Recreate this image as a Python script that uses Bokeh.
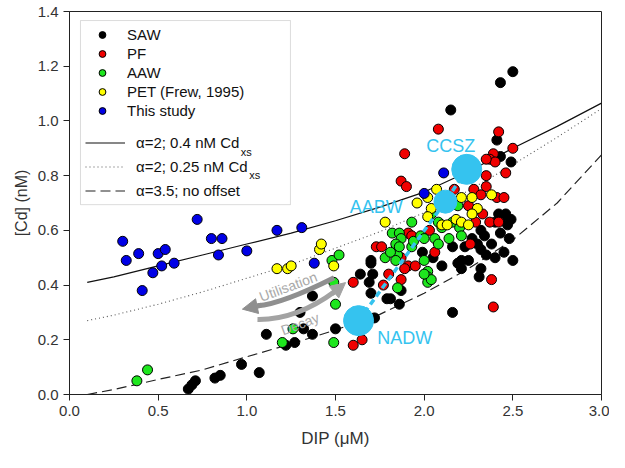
from bokeh.plotting import figure
from bokeh.models import (Range1d, FixedTicker, PrintfTickFormatter, Legend, LegendItem,
                          BoxAnnotation, Label, Arrow, NormalHead)
from bokeh.core.properties import value
from bokeh.embed import file_html
from bokeh.resources import INLINE

# ---------------- data ----------------
saw_x = [0.67, 0.69, 0.71, 0.82, 0.85, 0.97, 1.07,
         1.11, 1.22, 1.27, 1.32, 1.37, 1.30, 1.37, 1.50,
         1.64, 1.69, 1.70, 1.71, 1.70, 1.79, 1.86, 1.72, 1.81, 1.87, 1.70,
         1.99, 2.05, 2.10, 2.19, 2.16, 2.23, 2.21, 2.25, 2.21, 2.32, 2.32, 2.32, 2.34, 2.27,
         2.30, 2.38, 2.40, 2.45, 2.35, 2.31, 2.16,
         2.40, 2.42, 2.46, 2.49, 2.47, 2.43, 2.48, 2.50, 2.44,
         2.50, 2.43, 2.15, 2.41, 2.49, 2.43]
saw_y = [0.02, 0.035, 0.05, 0.06, 0.07, 0.11, 0.08,
         0.22, 0.18, 0.19, 0.24, 0.22, 0.30, 0.36, 0.24,
         0.44, 0.41, 0.37, 0.44, 0.48, 0.35, 0.33, 0.28, 0.35, 0.38, 0.49,
         0.52, 0.50, 0.47, 0.48, 0.54, 0.54, 0.49, 0.49, 0.46, 0.46, 0.53, 0.60, 0.58, 0.57,
         0.55, 0.55, 0.50, 0.52, 0.51, 0.43, 0.30,
         0.63, 0.66, 0.66, 0.64, 0.62, 0.59, 0.57, 0.49, 0.65,
         1.18, 1.14, 1.04, 0.93, 0.85, 0.87]

pf_x = [1.60, 1.60, 1.65, 1.73, 1.76, 1.80, 1.87, 1.77, 1.91, 1.95, 1.89, 1.87,
        1.87, 1.90, 1.91, 1.93, 2.03, 2.06, 2.17,
        2.28, 2.35, 2.32, 2.25, 2.33, 2.37, 2.42, 2.29, 2.26, 2.41, 2.45, 2.46, 2.35,
        2.08, 1.89, 2.42, 2.50, 2.39, 2.37, 2.40, 2.35,
        2.38, 2.39]
pf_y = [0.41, 0.18, 0.20, 0.54, 0.54, 0.44, 0.42, 0.40, 0.47, 0.47, 0.46, 0.50,
        0.78, 0.76, 0.59, 0.58, 0.60, 0.52, 0.75,
        0.75, 0.76, 0.73, 0.69, 0.66, 0.63, 0.63, 0.63, 0.55, 0.72, 0.72, 0.81, 0.80,
        0.97, 0.88, 0.96, 0.90, 0.88, 0.86, 0.85, 0.86,
        0.42, 0.32]

aaw_x = [0.38, 0.44, 1.20, 1.26, 1.49, 1.50, 1.49, 1.48, 1.52,
         1.82, 1.78, 1.85, 1.85, 1.93, 1.86, 1.87, 1.84, 1.86, 1.81, 1.84, 1.93, 1.94,
         2.00, 2.02, 2.02, 2.02, 2.04, 2.00, 1.98, 2.00, 2.06, 2.08, 2.04, 2.08, 2.10,
         2.14, 2.16, 2.19, 2.20, 2.21]
aaw_y = [0.05, 0.09, 0.19, 0.24, 0.19, 0.33, 0.41, 0.49, 0.51,
         0.59, 0.50, 0.51, 0.39, 0.63, 0.59, 0.57, 0.55, 0.54, 0.52, 0.49, 0.54, 0.56,
         0.49, 0.45, 0.43, 0.41, 0.42, 0.44, 0.58, 0.57, 0.57, 0.55, 0.66, 0.63, 0.61,
         0.57, 0.63, 0.69, 0.61, 0.58]

pet_x = [1.17, 1.23, 1.25, 1.41, 1.42, 1.49, 1.78,
         1.96, 2.02, 2.07, 2.04, 2.02, 2.10, 2.13, 2.18, 2.21, 2.25, 2.21, 2.27, 2.30, 2.27, 2.38]
pet_y = [0.46, 0.46, 0.47, 0.53, 0.55, 0.47, 0.63,
         0.70, 0.72, 0.75, 0.68, 0.65, 0.62, 0.62, 0.64, 0.63, 0.62, 0.72, 0.72, 0.68, 0.66, 0.73]

study_x = [0.30, 0.32, 0.39, 0.50, 0.54, 0.52, 0.47, 0.59, 0.41, 0.72, 0.80, 0.86, 0.84,
           1.00, 1.17, 1.31, 1.38, 2.11, 2.00]
study_y = [0.56, 0.49, 0.515, 0.515, 0.53, 0.47, 0.445, 0.48, 0.38, 0.64, 0.57, 0.57, 0.51,
           0.525, 0.60, 0.61, 0.48, 0.81, 0.735]

# model curves
curve_x = [0.1, 0.25, 0.5, 0.75, 1.0, 1.25, 1.5, 1.75, 2.0, 2.25, 2.5, 2.75, 3.0]
solid_y = [0.41, 0.43, 0.47, 0.51, 0.55, 0.59, 0.635, 0.685, 0.74, 0.815, 0.90, 0.98, 1.065]
dotted_y = [0.27, 0.29, 0.33, 0.375, 0.425, 0.475, 0.535, 0.595, 0.665, 0.745, 0.84, 0.94, 1.045]
dashed_y = [0.0, 0.018, 0.055, 0.09, 0.138, 0.185, 0.236, 0.293, 0.37, 0.46, 0.565, 0.70, 0.876]

# water-mass end members
wm_names = ["NADW", "AABW", "CCSZ"]
wm_x = [1.63, 2.12, 2.24]
wm_y = [0.27, 0.705, 0.823]
wm_size = [30, 23, 30]
wm_label_x = [1.89, 1.73, 2.15]
wm_label_y = [0.205, 0.687, 0.91]

x_ticks = [0.0, 0.5, 1.0, 1.5, 2.0, 2.5, 3.0]
y_ticks = [0.0, 0.2, 0.4, 0.6, 0.8, 1.0, 1.2, 1.4]

FONT = "Liberation Sans"
CYAN = "#35c3ef"

p = figure(width=609, height=452, output_backend="svg", toolbar_location=None,
           x_range=Range1d(0, 3.0), y_range=Range1d(0, 1.4),
           min_border_left=69, min_border_right=8, min_border_top=11, min_border_bottom=58)
p.grid.visible = False
p.outline_line_color = "#222222"
p.outline_line_width = 1
p.background_fill_color = "white"
p.border_fill_color = "white"

for ax in (p.xaxis[0], p.yaxis[0]):
    ax.major_label_text_font = FONT
    ax.major_label_text_font_size = "15px"
    ax.major_label_text_color = "#333333"
    ax.axis_label_text_font = FONT
    ax.axis_label_text_font_style = "normal"
    ax.axis_label_text_color = "#333333"
    ax.axis_line_color = "#222222"
    ax.major_tick_line_color = "#222222"
    ax.major_tick_out = 6
    ax.major_tick_in = 0
    ax.minor_tick_line_color = None
    ax.formatter = PrintfTickFormatter(format="%.1f")
p.xaxis[0].ticker = FixedTicker(ticks=x_ticks)
p.yaxis[0].ticker = FixedTicker(ticks=y_ticks)
p.xaxis[0].axis_label = "DIP (\u03bcM)"
p.yaxis[0].axis_label = "[Cd] (nM)"
p.xaxis[0].axis_label_text_font_size = "17px"
p.yaxis[0].axis_label_text_font_size = "16px"
p.xaxis[0].major_label_standoff = 5
p.yaxis[0].major_label_standoff = 5
p.xaxis[0].axis_label_standoff = 10
p.yaxis[0].axis_label_standoff = 5

# curves
r_solid = p.line(curve_x, solid_y, line_color="#111111", line_width=1.2)
r_dot = p.line(curve_x, dotted_y, line_color="#555555", line_width=1.1, line_dash="1 3")
r_dash = p.line(curve_x, dashed_y, line_color="#222222", line_width=1.2, line_dash="10 5")

# scatter series
kw = dict(size=10, line_color="black", line_width=1)
r_saw = p.scatter(saw_x, saw_y, fill_color="black", **kw)
r_pf = p.scatter(pf_x, pf_y, fill_color="#f00000", **kw)
r_aaw = p.scatter(aaw_x, aaw_y, fill_color="#1ee61e", **kw)
r_pet = p.scatter(pet_x, pet_y, fill_color="#ffff00", **kw)
r_study = p.scatter(study_x, study_y, fill_color="#0000e6", **kw)

# arrows (Utilisation / Decay)
p.quadratic(x0=[1.492], y0=[0.427], x1=[1.06], y1=[0.324], cx=[1.20], cy=[0.332],
            line_color="#8f8f8f", line_width=5)
p.add_layout(Arrow(end=NormalHead(size=15, fill_color="#8f8f8f", line_color="#8f8f8f"),
                   x_start=1.08, y_start=0.326, x_end=0.975, y_end=0.312,
                   line_color="#8f8f8f", line_width=5))
p.quadratic(x0=[1.06], y0=[0.274], x1=[1.50], y1=[0.378], cx=[1.28], cy=[0.272],
            line_color="#a3a3a3", line_width=5)
p.add_layout(Arrow(end=NormalHead(size=15, fill_color="#a3a3a3", line_color="#a3a3a3"),
                   x_start=1.48, y_start=0.368, x_end=1.557, y_end=0.409,
                   line_color="#a3a3a3", line_width=5))
p.text(x=[1.233], y=[0.394], text=["Utilisation"], angle=0.36, text_font=value(FONT),
       text_font_size="14px", text_color="#a9a9a9", text_align="center", text_baseline="middle")
p.text(x=[1.30], y=[0.258], text=["Decay"], angle=0.36, text_font=value(FONT),
       text_font_size="14px", text_color="#a9a9a9", text_align="center", text_baseline="middle")

# water masses
p.line(wm_x, wm_y, line_color=CYAN, line_width=3.5, line_dash="6 4")
p.scatter(wm_x, wm_y, size=wm_size, fill_color=CYAN, line_color=CYAN)
p.text(x=wm_label_x, y=wm_label_y, text=wm_names, text_font=value(FONT), text_font_size="18px",
       text_color=CYAN, text_align="center", text_baseline="middle")

# legend
p.add_layout(BoxAnnotation(left=0.062, right=1.246, top=1.367, bottom=0.694,
                           fill_alpha=0.0, line_color="#8a8a8a", line_width=1))
leg1 = Legend(items=[LegendItem(label="SAW", renderers=[r_saw]),
                     LegendItem(label="PF", renderers=[r_pf]),
                     LegendItem(label="AAW", renderers=[r_aaw]),
                     LegendItem(label="PET (Frew, 1995)", renderers=[r_pet]),
                     LegendItem(label="This study", renderers=[r_study])],
              location=(11, 268), margin=0, padding=7, glyph_width=30, glyph_height=17,
              label_height=17, label_standoff=10, spacing=2,
              border_line_alpha=0, background_fill_alpha=0,
              label_text_font=FONT, label_text_font_size="15px", label_text_color="#111111")
leg2 = Legend(items=[LegendItem(label="\u03b1=2; 0.4 nM Cd", renderers=[r_solid]),
                     LegendItem(label="\u03b1=2; 0.25 nM Cd", renderers=[r_dot]),
                     LegendItem(label="\u03b1=3.5; no offset", renderers=[r_dash])],
              location=(11, 190), margin=0, padding=5, glyph_width=40, glyph_height=17,
              label_height=17, label_standoff=11, spacing=7,
              border_line_alpha=0, background_fill_alpha=0,
              label_text_font=FONT, label_text_font_size="15px", label_text_color="#111111")
p.add_layout(leg1)
p.add_layout(leg2)
p.add_layout(Label(x=0.966, y=0.888, text="xs", text_font=FONT, text_font_size="11px",
                   text_color="#111111", text_baseline="alphabetic"))
p.add_layout(Label(x=1.013, y=0.804, text="xs", text_font=FONT, text_font_size="11px",
                   text_color="#111111", text_baseline="alphabetic"))

open("out.html", "w").write(file_html(p, INLINE))
